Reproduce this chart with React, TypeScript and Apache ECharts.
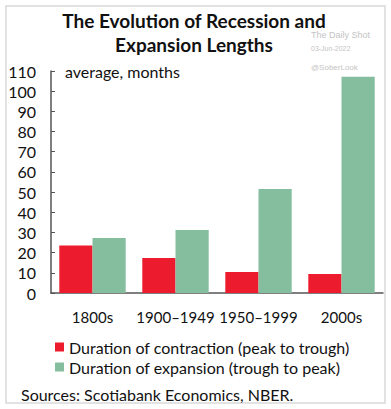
import React, { useEffect, useRef } from "react";
import * as echarts from "echarts";

const categories = ["1800s", "1900–1949", "1950–1999", "2000s"];
const contraction = [23.5, 17.3, 10.4, 9.4];
const expansion = [27.2, 31.2, 51.5, 107.2];
const yTicks = [0, 10, 20, 30, 40, 50, 60, 70, 80, 90, 100, 110];

const FONT = "Lato";
const RED = "#EC1B2E";
const GREEN = "#85BE9E";
const AXIS = "#555555";

export default function App() {
  const ref = useRef<HTMLDivElement>(null);
  useEffect(() => {
    if (!ref.current) return;
    const chart = echarts.init(ref.current, undefined, { renderer: "svg" });
    chart.setOption({
      animation: false,
      backgroundColor: "#ffffff",
      textStyle: { fontFamily: FONT },
      grid: { left: 51, right: 8, top: 71, bottom: 116, containLabel: false },
      xAxis: {
        type: "category",
        data: categories,
        axisLine: { lineStyle: { color: AXIS, width: 1.5 } },
        axisTick: { inside: true, length: 5, lineStyle: { color: AXIS } },
        axisLabel: { color: "#111", fontSize: 15, margin: 16, fontFamily: FONT, interval: 0, hideOverlap: false },
      },
      yAxis: {
        type: "value",
        min: yTicks[0],
        max: yTicks[yTicks.length - 1],
        interval: 10,
        splitLine: { show: false },
        axisLine: { show: true, lineStyle: { color: AXIS, width: 1.5 } },
        axisTick: { show: true, inside: true, length: 4, lineStyle: { color: AXIS } },
        axisLabel: { color: "#111", fontSize: 16, margin: 15, fontFamily: FONT },
      },
      legend: {
        orient: "vertical",
        left: 50,
        top: 334,
        icon: "rect",
        itemWidth: 9,
        itemHeight: 9,
        itemGap: 4,
        textStyle: { fontSize: 16, lineHeight: 16, color: "#111", fontFamily: FONT },
        data: ["Duration of contraction (peak to trough)", "Duration of expansion (trough to peak)"],
      },
      series: [
        {
          name: "Duration of contraction (peak to trough)",
          type: "bar",
          data: contraction,
          itemStyle: { color: RED },
          barGap: "0%",
          barCategoryGap: "20%",
        },
        {
          name: "Duration of expansion (trough to peak)",
          type: "bar",
          data: expansion,
          itemStyle: { color: GREEN },
          barGap: "0%",
          barCategoryGap: "20%",
        },
      ],
      graphic: [
        {
          type: "rect",
          shape: { x: 6, y: 6, width: 379, height: 397 },
          style: { fill: "none", stroke: "#d9d9d9", lineWidth: 1.5 },
          silent: true,
        },
        {
          type: "text",
          x: 194,
          y: 20,
          style: {
            text: "The Evolution of Recession and",
            fontFamily: FONT,
            fontWeight: "bold",
            fontSize: 19,
            fill: "#111",
            textAlign: "center",
            textVerticalAlign: "middle",
          },
        },
        {
          type: "text",
          x: 194,
          y: 44,
          style: {
            text: "Expansion Lengths",
            fontFamily: FONT,
            fontWeight: "bold",
            fontSize: 19,
            fill: "#111",
            textAlign: "center",
            textVerticalAlign: "middle",
          },
        },
        {
          type: "text",
          x: 311,
          y: 35,
          style: { text: "The Daily Shot", fontFamily: "Liberation Sans", fontSize: 9, fill: "#c4c4c4", textVerticalAlign: "middle" },
        },
        {
          type: "text",
          x: 311,
          y: 48,
          style: { text: "03-Jun-2022", fontFamily: "Liberation Sans", fontSize: 7, fill: "#c4c4c4", textVerticalAlign: "middle" },
        },
        {
          type: "text",
          x: 311,
          y: 67,
          style: { text: "@SoberLook", fontFamily: "Liberation Sans", fontSize: 8, fill: "#c4c4c4", textVerticalAlign: "middle" },
        },
        {
          type: "text",
          x: 65,
          y: 71,
          style: { text: "average, months", fontFamily: FONT, fontSize: 16, fill: "#111", textVerticalAlign: "middle" },
        },
        {
          type: "text",
          x: 21,
          y: 394,
          style: { text: "Sources: Scotiabank Economics, NBER.", fontFamily: FONT, fontSize: 16, fill: "#111", textVerticalAlign: "middle" },
        },
      ],
    });
    return () => chart.dispose();
  }, []);
  return (
    <div
      ref={ref}
      style={{ position: "fixed", left: 0, top: 0, width: 391, height: 409 }}
    />
  );
}
